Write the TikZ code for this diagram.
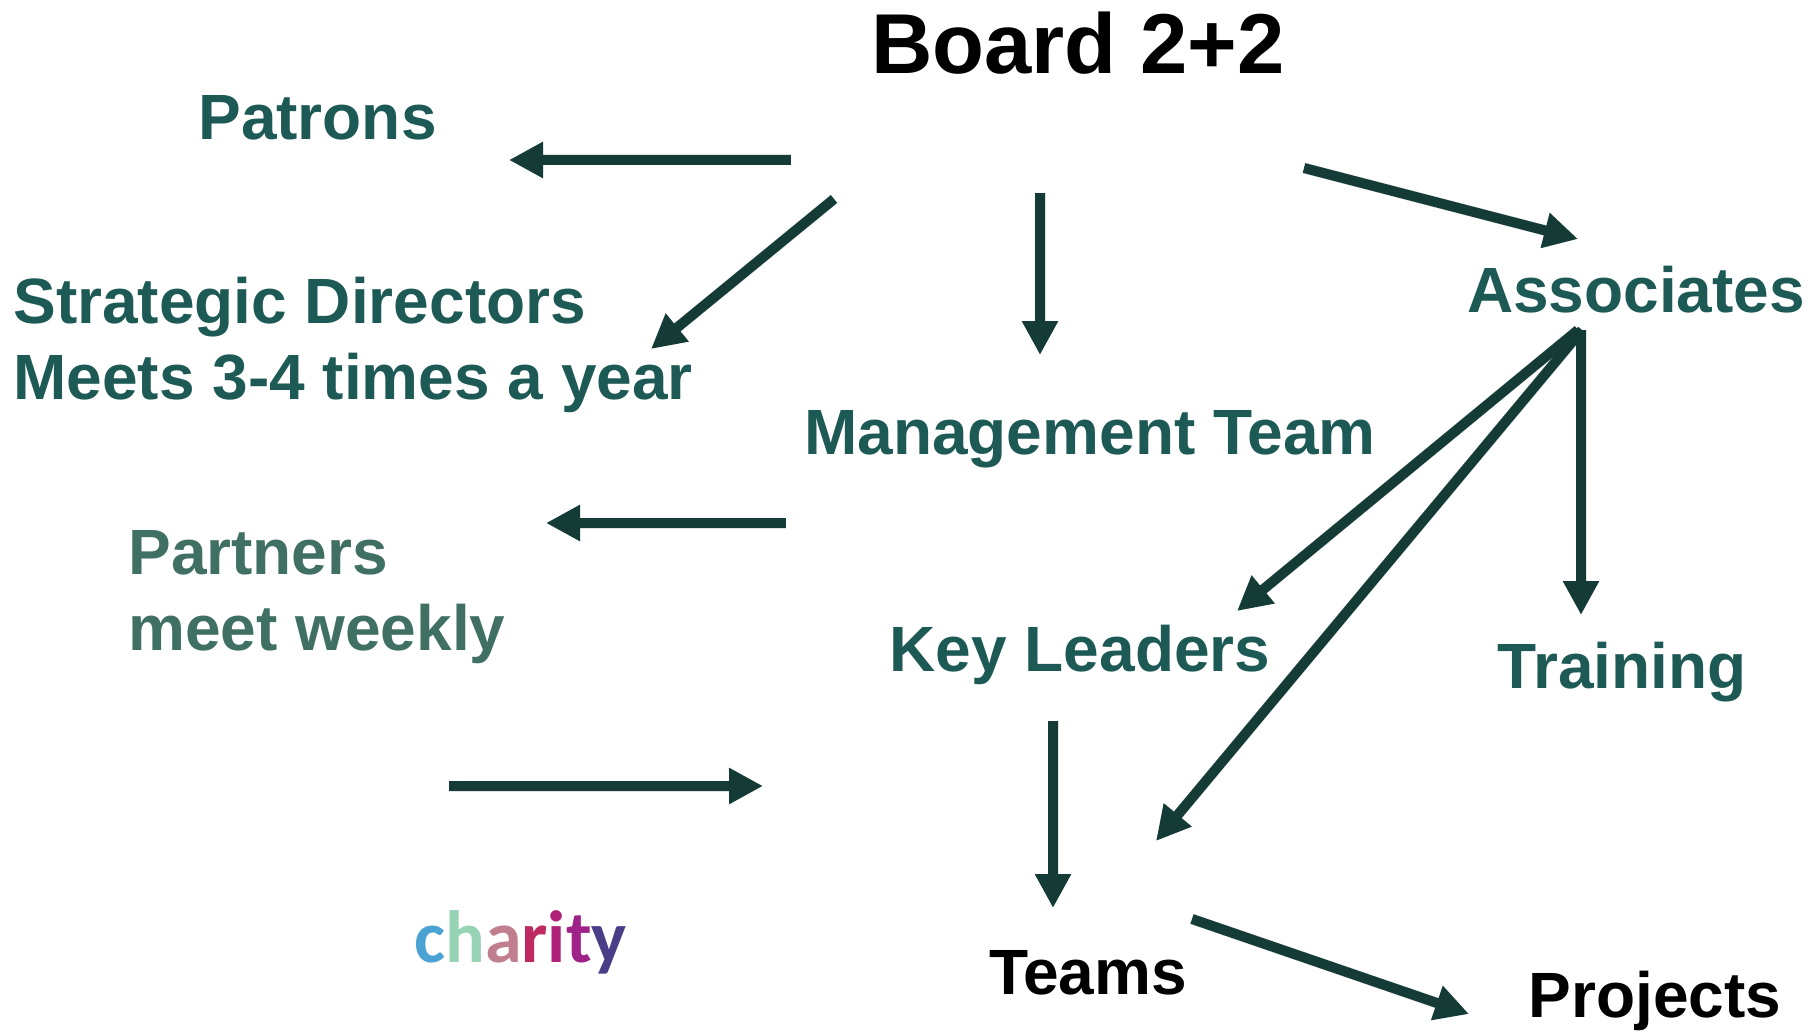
\documentclass[tikz,border=0pt]{standalone}
\usepackage{fontspec}
\setmainfont{Liberation Sans}
\newfontfamily\logofont{Carlito}
\usetikzlibrary{arrows.meta}
\definecolor{teal1}{HTML}{1E5A55}
\definecolor{teal2}{HTML}{406F63}
\definecolor{arrowc}{HTML}{143B36}
\definecolor{ca}{HTML}{4BA3D3}
\definecolor{cb}{HTML}{96D2B4}
\definecolor{cc}{HTML}{C07E8E}
\definecolor{cd}{HTML}{C02A62}
\definecolor{ce}{HTML}{B02078}
\definecolor{cf}{HTML}{9E2288}
\definecolor{cg}{HTML}{4A3D88}
\tikzset{
  lbl/.style={inner sep=0pt, font=\bfseries\fontsize{32}{38}\selectfont, text=teal1},
  blk/.style={lbl, text=black},
  arr/.style={draw=arrowc, line width=5pt, -{Triangle[length=17pt,width=17pt]}},
  shad/.style={draw=black, opacity=0.12, line width=5.5pt, -{Triangle[length=17pt,width=17pt]}, shift={(2,3)}}
}
\begin{document}
\begin{tikzpicture}[x=0.5pt,y=-0.5pt]
\useasboundingbox (0,0) rectangle (1813,1032);
% texts
\node[blk, anchor=base, font=\bfseries\fontsize{42.5}{50}\selectfont] (board) at (1078,74) {Board 2+2};
\node[lbl, anchor=base west] (patrons) at (198,140) {Patrons};
\node[lbl, anchor=base west, align=left] (strat) at (13,399) {Strategic Directors\\Meets 3-4 times a year};
\node[lbl, anchor=base] (mgmt) at (1090,454) {Management Team};
\node[lbl, anchor=base west, align=left, text=teal2] (partners) at (128,650) {Partners\\meet weekly};
\node[lbl, anchor=base] (key) at (1080,671) {Key Leaders};
\node[lbl, anchor=base] (assoc) at (1636,312) {Associates};
\node[lbl, anchor=base] (train) at (1622,688) {Training};
\node[blk, anchor=base] (teams) at (1088,994) {Teams};
\node[blk, anchor=base] (proj) at (1655,1017) {Projects};
\node[inner sep=0pt, anchor=base west, font=\logofont\bfseries\fontsize{37}{40}\selectfont] (charity) at (414,962)
  {\textcolor{ca}{c}\textcolor{cb}{h}\textcolor{cc}{a}\textcolor{cd}{r}\textcolor{ce}{i}\textcolor{cf}{t}\textcolor{cg}{y}};
% arrow end points
\coordinate (a1s) at (791,160); \coordinate (a1e) at (509,160);
\coordinate (a2s) at (834,199); \coordinate (a2e) at (651,349);
\coordinate (a3s) at (1040,193); \coordinate (a3e) at (1040,355);
\coordinate (a4s) at (1304,168); \coordinate (a4e) at (1578,239);
\coordinate (a5s) at (786,523); \coordinate (a5e) at (546,523);
\coordinate (a6s) at (1578,330); \coordinate (a6e) at (1237,611);
\coordinate (a7s) at (1582,330); \coordinate (a7e) at (1156,841);
\coordinate (a8s) at (1581,330); \coordinate (a8e) at (1581,615);
\coordinate (a9s) at (449,786); \coordinate (a9e) at (763,786);
\coordinate (a10s) at (1053,721); \coordinate (a10e) at (1053,908);
\coordinate (a11s) at (1192,919); \coordinate (a11e) at (1469,1014);
\foreach \i in {1,...,11} {
  \draw[shad] (a\i s) -- (a\i e);
}
\foreach \i in {1,...,11} {
  \draw[arr] (a\i s) -- (a\i e);
}
\end{tikzpicture}
\end{document}
